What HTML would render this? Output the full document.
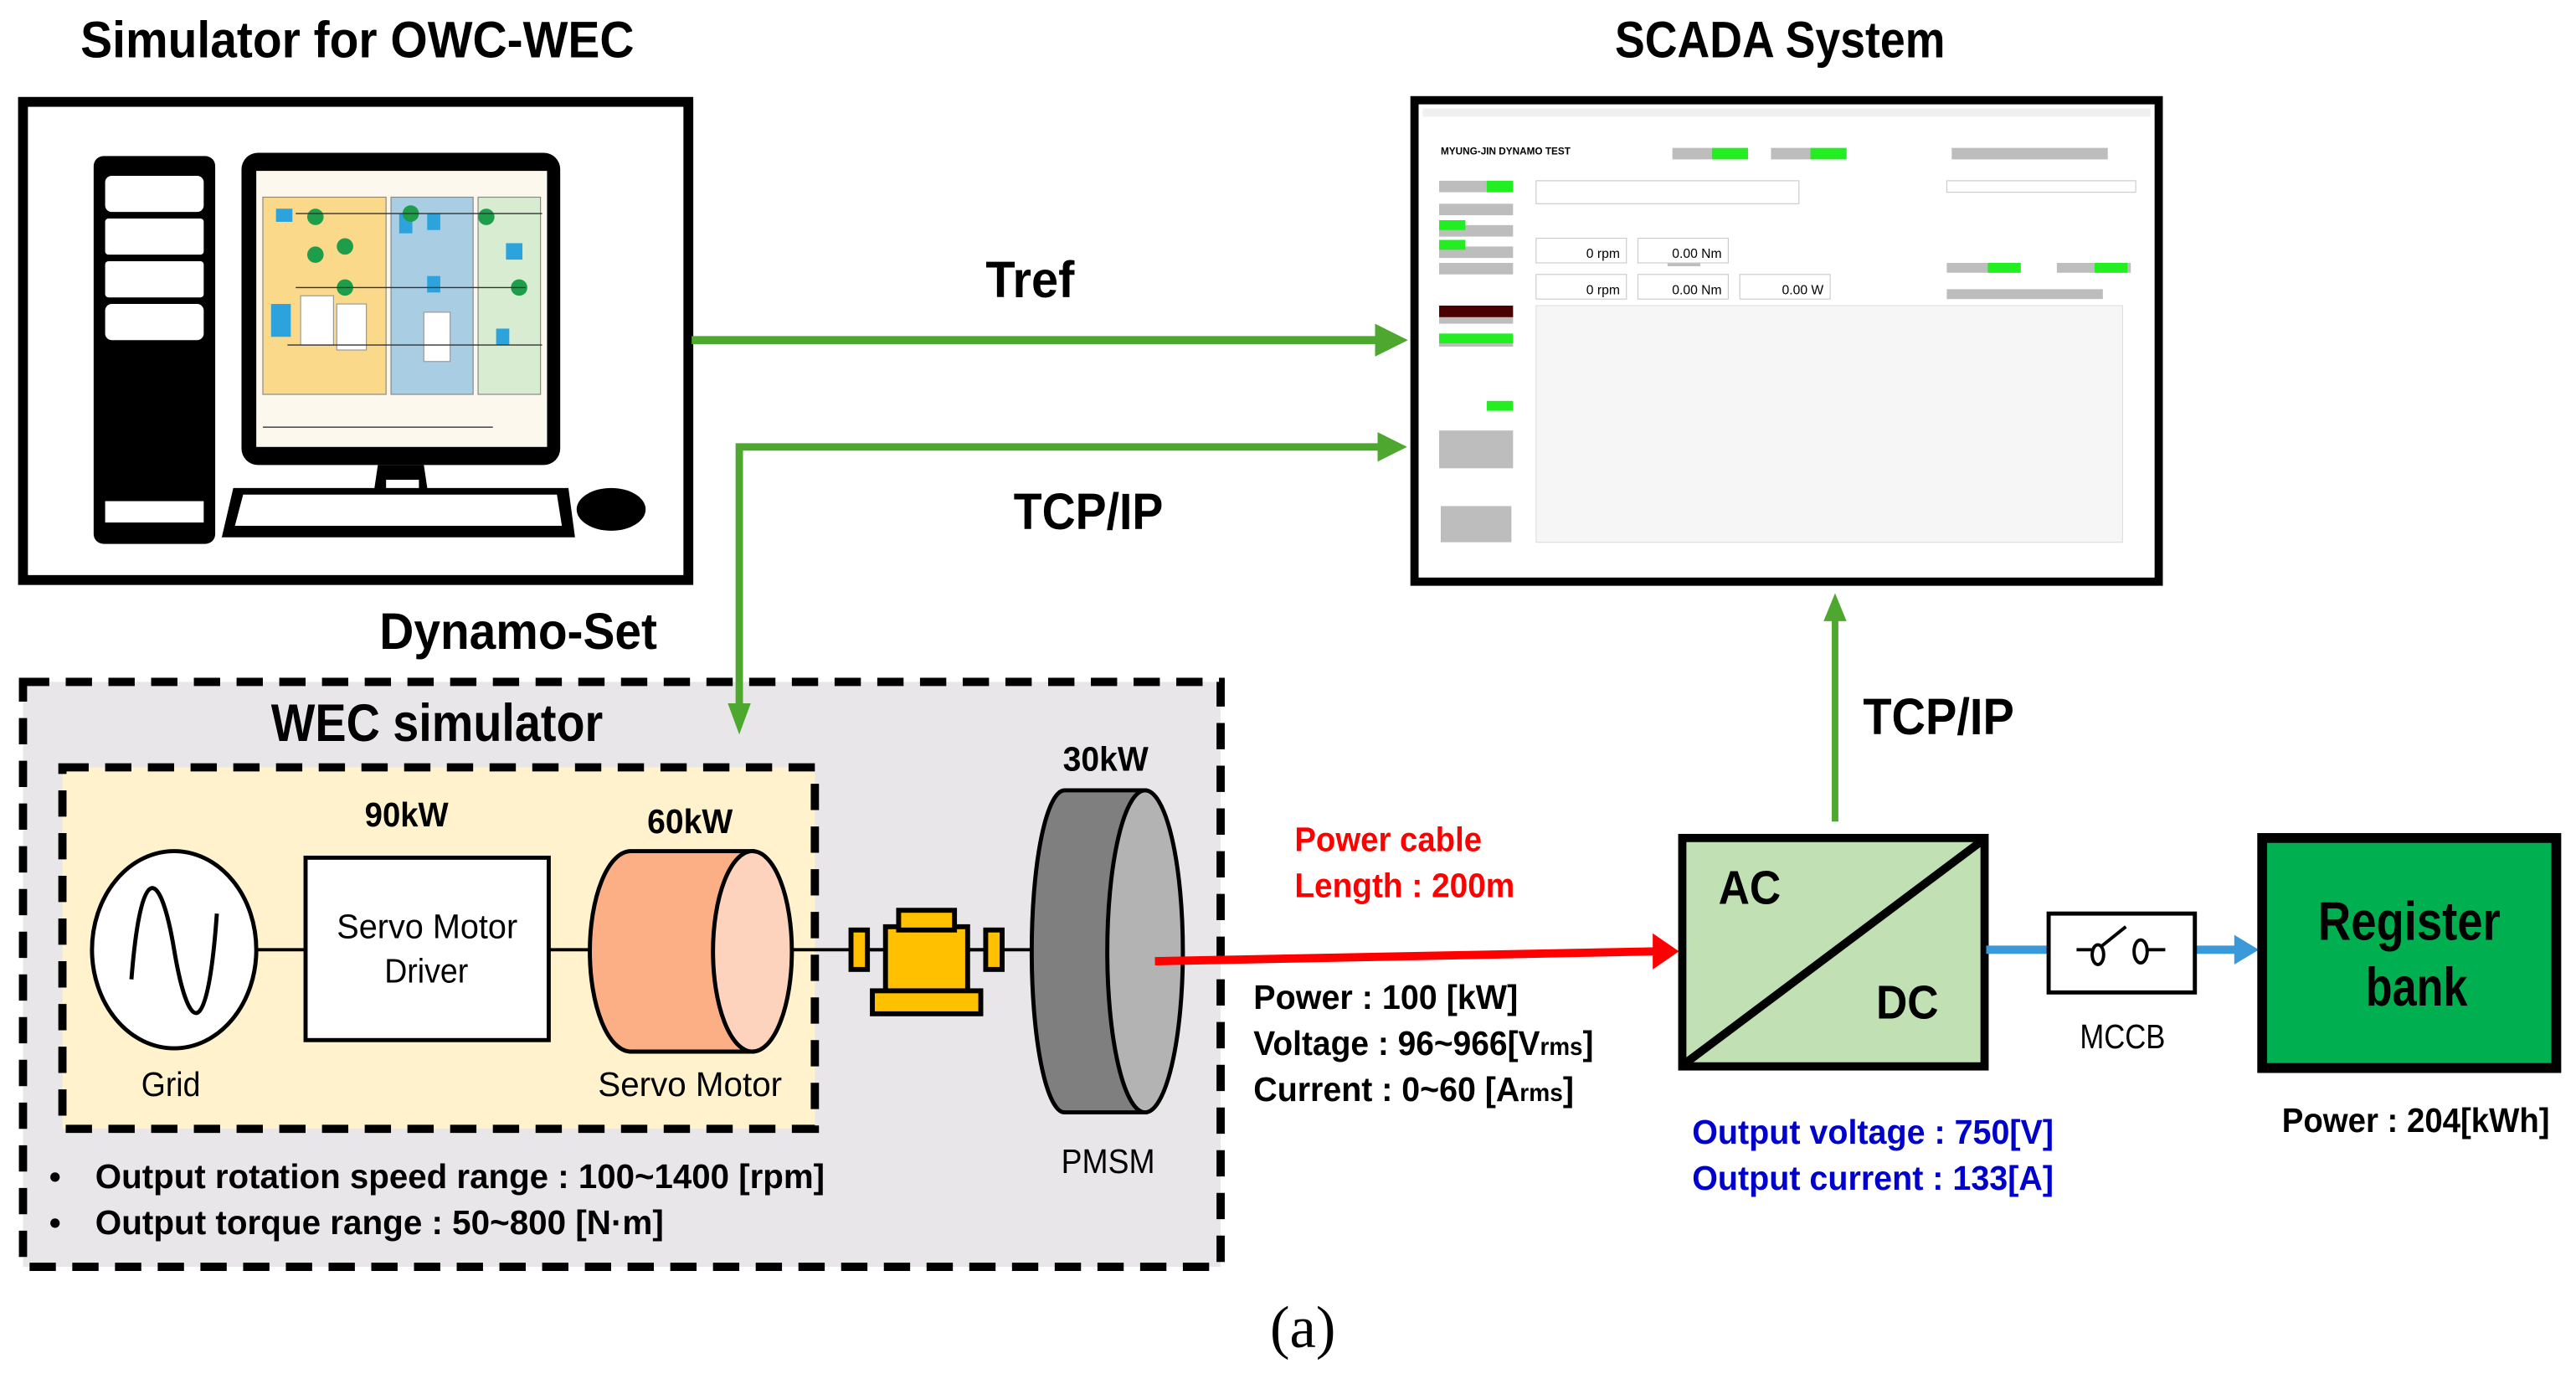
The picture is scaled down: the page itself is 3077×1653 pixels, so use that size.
<!DOCTYPE html>
<html><head><meta charset="utf-8"><style>html,body{margin:0;padding:0;background:#fff}svg{display:block}
text{font-family:"Liberation Sans Narrow","Liberation Sans",sans-serif}</style></head><body>
<svg width="3077" height="1653" viewBox="0 0 1568 842.3" preserveAspectRatio="none" xmlns="http://www.w3.org/2000/svg">
<defs>
<marker id="ag" markerWidth="4" markerHeight="4" refX="3" refY="2" orient="auto"><path d="M0,0 L4,2 L0,4z" fill="#4ea72e"/></marker>
</defs>
<text x="49" y="35" font-size="31" font-weight="bold" textLength="337" lengthAdjust="spacingAndGlyphs">Simulator for OWC-WEC</text>
<text x="983" y="35" font-size="31" font-weight="bold" textLength="201" lengthAdjust="spacingAndGlyphs">SCADA System</text>
<rect x="14" y="62" width="405" height="291" fill="#fff" stroke="#000" stroke-width="6"/>
<rect x="57" y="95" width="74" height="236" rx="6" fill="#000"/>
<rect x="64" y="107" width="60" height="22" rx="4" fill="#fff"/>
<rect x="64" y="133" width="60" height="22" rx="2" fill="#fff"/>
<rect x="64" y="159" width="60" height="22" rx="2" fill="#fff"/>
<rect x="64" y="185" width="60" height="22" rx="4" fill="#fff"/>
<rect x="64" y="305" width="60" height="13" fill="#fff"/>
<rect x="147" y="93" width="194" height="190" rx="10" fill="#000"/>
<rect x="156" y="104" width="177" height="168" fill="#fcf8ee"/>
<rect x="160" y="120" width="75" height="120" fill="#fbd98a" stroke="#888" stroke-width=".6"/>
<rect x="238" y="120" width="50" height="120" fill="#a9cde3" stroke="#888" stroke-width=".6"/>
<rect x="291" y="120" width="38" height="120" fill="#d7ecd0" stroke="#888" stroke-width=".6"/>
<rect x="168" y="127" width="10" height="8" fill="#2ca3dc"/><rect x="165" y="185" width="12" height="20" fill="#2ca3dc"/>
<rect x="243" y="130" width="8" height="12" fill="#2ca3dc"/><rect x="260" y="130" width="8" height="10" fill="#2ca3dc"/><rect x="260" y="168" width="8" height="10" fill="#2ca3dc"/>
<rect x="308" y="148" width="10" height="10" fill="#2ca3dc"/><rect x="302" y="200" width="8" height="10" fill="#2ca3dc"/>
<circle cx="192" cy="132" r="5" fill="#1e9e4a"/><circle cx="192" cy="155" r="5" fill="#1e9e4a"/><circle cx="210" cy="150" r="5" fill="#1e9e4a"/><circle cx="210" cy="175" r="5" fill="#1e9e4a"/><circle cx="250" cy="130" r="5" fill="#1e9e4a"/><circle cx="296" cy="132" r="5" fill="#1e9e4a"/><circle cx="316" cy="175" r="5" fill="#1e9e4a"/>
<rect x="183" y="180" width="20" height="30" fill="#fff" stroke="#999" stroke-width=".6"/><rect x="205" y="185" width="18" height="28" fill="#fff" stroke="#999" stroke-width=".6"/><rect x="258" y="190" width="16" height="30" fill="#fff" stroke="#999" stroke-width=".6"/>
<path d="M180 130H330M180 175H320M175 210H330M160 260H300" stroke="#333" stroke-width=".7" fill="none"/>
<path d="M230 283 L258 283 L262 310 L226 310z" fill="#000"/><rect x="235" y="292" width="20" height="6" fill="#fff"/>
<path d="M222 300 L270 300 L273 312 L219 312z" fill="#000"/>
<path d="M142 297 L346 297 L350 327 L135 327z" fill="#000"/><path d="M148 301 L339 301 L342 320 L143 320z" fill="#fff"/>
<ellipse cx="372" cy="310" rx="21" ry="13" fill="#000"/>
<rect x="861" y="61" width="453" height="293" fill="#fff" stroke="#000" stroke-width="5"/>
<rect x="866" y="66" width="443" height="5" fill="#f0f0f0"/>
<text x="877" y="94" font-size="6" font-weight="bold">MYUNG-JIN DYNAMO TEST</text>
<g fill="#bdbdbd">
<rect x="1018" y="90" width="24" height="7"/><rect x="1078" y="90" width="24" height="7"/><rect x="1188" y="90" width="95" height="7"/>
<rect x="876" y="110" width="45" height="7"/><rect x="876" y="124" width="45" height="7"/><rect x="876" y="137" width="45" height="7"/><rect x="876" y="150" width="45" height="7"/><rect x="876" y="160" width="45" height="7"/>
<rect x="876" y="190" width="45" height="7"/><rect x="876" y="204" width="45" height="7"/>
<rect x="876" y="262" width="45" height="23"/><rect x="877" y="308" width="43" height="22"/>
<rect x="1015" y="155" width="20" height="7"/><rect x="1185" y="160" width="45" height="6"/><rect x="1252" y="160" width="45" height="6"/><rect x="1185" y="176" width="95" height="6"/>
</g>
<g fill="#22ee22">
<rect x="1042" y="90" width="22" height="7"/><rect x="1102" y="90" width="22" height="7"/>
<rect x="905" y="110" width="16" height="7"/><rect x="876" y="134" width="16" height="6"/><rect x="876" y="146" width="16" height="6"/>
<rect x="876" y="203" width="45" height="6"/><rect x="905" y="244" width="16" height="6"/><rect x="1210" y="160" width="20" height="6"/><rect x="1275" y="160" width="20" height="6"/>
</g>
<rect x="876" y="186" width="45" height="7" fill="#4a0000"/>
<g fill="#fff" stroke="#ccc" stroke-width=".6">
<rect x="935" y="110" width="160" height="14"/><rect x="1185" y="110" width="115" height="7"/>
<rect x="935" y="145" width="55" height="15"/><rect x="997" y="145" width="55" height="15"/>
<rect x="935" y="167" width="55" height="15"/><rect x="997" y="167" width="55" height="15"/><rect x="1059" y="167" width="55" height="15"/>
</g>
<text x="986" y="157" font-size="8" text-anchor="end">0 rpm</text><text x="1048" y="157" font-size="8" text-anchor="end">0.00 Nm</text>
<text x="986" y="179" font-size="8" text-anchor="end">0 rpm</text><text x="1048" y="179" font-size="8" text-anchor="end">0.00 Nm</text><text x="1110" y="179" font-size="8" text-anchor="end">0.00 W</text>
<rect x="935" y="186" width="357" height="144" fill="#f6f6f6" stroke="#e0e0e0" stroke-width=".6"/>
<line x1="421" y1="207" x2="852" y2="207" stroke="#4ea72e" stroke-width="5" marker-end="url(#ag)"/>
<polyline points="450,400 450,272 852,272" fill="none" stroke="#4ea72e" stroke-width="4.5" marker-end="url(#ag)"/>
<text x="600" y="181" font-size="31" font-weight="bold" textLength="54" lengthAdjust="spacingAndGlyphs">Tref</text>
<text x="617" y="322" font-size="31" font-weight="bold" textLength="91" lengthAdjust="spacingAndGlyphs">TCP/IP</text>
<text x="231" y="395" font-size="31" font-weight="bold" textLength="169" lengthAdjust="spacingAndGlyphs">Dynamo-Set</text>
<rect x="14" y="415" width="729" height="356" fill="#e8e6e8" stroke="#000" stroke-width="5" stroke-dasharray="16,10"/>
<line x1="450" y1="400" x2="450" y2="430" stroke="#4ea72e" stroke-width="4.5"/>
<path d="M450 447 L443 428 L457 428z" fill="#4ea72e"/>
<text x="165" y="451" font-size="32" font-weight="bold" textLength="202" lengthAdjust="spacingAndGlyphs">WEC simulator</text>
<rect x="38" y="467" width="458" height="220" fill="#fff2cc" stroke="#000" stroke-width="5" stroke-dasharray="16,10"/>
<text x="222" y="503" font-size="21" font-weight="bold" textLength="51" lengthAdjust="spacingAndGlyphs">90kW</text>
<text x="394" y="507" font-size="21" font-weight="bold" textLength="52" lengthAdjust="spacingAndGlyphs">60kW</text>
<text x="647" y="469" font-size="21" font-weight="bold" textLength="52" lengthAdjust="spacingAndGlyphs">30kW</text>
<line x1="155" y1="578" x2="630" y2="578" stroke="#000" stroke-width="2"/>
<ellipse cx="106" cy="578" rx="50" ry="60" fill="#fff" stroke="#000" stroke-width="2.5"/>
<path d="M80 596 C86 520 98 530 106 578 S126 640 132 556" fill="none" stroke="#000" stroke-width="2.5"/>
<text x="86" y="667" font-size="21" textLength="36" lengthAdjust="spacingAndGlyphs">Grid</text>
<rect x="186" y="522" width="148" height="111" fill="#fff" stroke="#000" stroke-width="2.5"/>
<text x="205" y="571" font-size="21" textLength="110" lengthAdjust="spacingAndGlyphs">Servo Motor</text>
<text x="234" y="598" font-size="21" textLength="51" lengthAdjust="spacingAndGlyphs">Driver</text>
<path d="M384 518 L458 518 L458 640 L384 640 A25 61 0 0 1 384 518z" fill="#fcae84" stroke="#000" stroke-width="2.5"/>
<ellipse cx="458" cy="579" rx="24" ry="61" fill="#fdd3be" stroke="#000" stroke-width="2.5"/>
<text x="364" y="667" font-size="21" textLength="112" lengthAdjust="spacingAndGlyphs">Servo Motor</text>
<rect x="518" y="566" width="10" height="24" fill="#ffc000" stroke="#000" stroke-width="3"/>
<rect x="600" y="566" width="10" height="24" fill="#ffc000" stroke="#000" stroke-width="3"/>
<line x1="528" y1="578" x2="600" y2="578" stroke="#000" stroke-width="2"/>
<rect x="539" y="564" width="50" height="42" fill="#ffc000" stroke="#000" stroke-width="3"/>
<rect x="547" y="554" width="34" height="12" fill="#ffc000" stroke="#000" stroke-width="3"/>
<rect x="531" y="603" width="66" height="14" fill="#ffc000" stroke="#000" stroke-width="3"/>
<path d="M697 481 L648 481 A20 98 0 0 0 648 677 L697 677z" fill="#7f7f7f" stroke="#000" stroke-width="2.5"/>
<ellipse cx="697" cy="579" rx="23" ry="98" fill="#b3b3b3" stroke="#000" stroke-width="2.5"/>
<text x="646" y="714" font-size="21" textLength="57" lengthAdjust="spacingAndGlyphs">PMSM</text>
<text x="30" y="723" font-size="20" font-weight="bold">•</text>
<text x="58" y="723" font-size="21" font-weight="bold" textLength="444" lengthAdjust="spacingAndGlyphs">Output rotation speed range : 100~1400  [rpm]</text>
<text x="30" y="751" font-size="20" font-weight="bold">•</text>
<text x="58" y="751" font-size="21" font-weight="bold" textLength="346" lengthAdjust="spacingAndGlyphs">Output torque range : 50~800  [N·m]</text>
<line x1="703" y1="585" x2="1008" y2="579" stroke="#ff0000" stroke-width="5"/>
<path d="M1022 579 L1006 568 L1006 590z" fill="#ff0000"/>
<text x="788" y="518" font-size="21" font-weight="bold" fill="#ff0000" textLength="114" lengthAdjust="spacingAndGlyphs">Power  cable</text>
<text x="788" y="546" font-size="21" font-weight="bold" fill="#ff0000" textLength="134" lengthAdjust="spacingAndGlyphs">Length : 200m</text>
<text x="763" y="614" font-size="21" font-weight="bold" textLength="161" lengthAdjust="spacingAndGlyphs">Power : 100  [kW]</text>
<text x="763" y="642" font-size="21" font-weight="bold" textLength="207" lengthAdjust="spacingAndGlyphs">Voltage : 96~966[V<tspan font-size="15">rms</tspan>]</text>
<text x="763" y="670" font-size="21" font-weight="bold" textLength="195" lengthAdjust="spacingAndGlyphs">Current : 0~60  [A<tspan font-size="15">rms</tspan>]</text>
<rect x="1024" y="510" width="184" height="139" fill="#c1e0b3" stroke="#000" stroke-width="5"/>
<line x1="1026" y1="647" x2="1206" y2="512" stroke="#000" stroke-width="5"/>
<text x="1046" y="550" font-size="29" font-weight="bold" textLength="38" lengthAdjust="spacingAndGlyphs">AC</text>
<text x="1142" y="620" font-size="29" font-weight="bold" textLength="38" lengthAdjust="spacingAndGlyphs">DC</text>
<line x1="1117" y1="500" x2="1117" y2="376" stroke="#4ea72e" stroke-width="4"/>
<path d="M1117 361 L1110 378 L1124 378z" fill="#4ea72e"/>
<text x="1134" y="447" font-size="31" font-weight="bold" textLength="92" lengthAdjust="spacingAndGlyphs">TCP/IP</text>
<text x="1030" y="696" font-size="21" font-weight="bold" fill="#0000cc" textLength="220" lengthAdjust="spacingAndGlyphs">Output voltage : 750[V]</text>
<text x="1030" y="724" font-size="21" font-weight="bold" fill="#0000cc" textLength="220" lengthAdjust="spacingAndGlyphs">Output current : 133[A]</text>
<line x1="1209" y1="578" x2="1247" y2="578" stroke="#3a9ad9" stroke-width="5"/>
<line x1="1336" y1="578" x2="1362" y2="578" stroke="#3a9ad9" stroke-width="5"/>
<path d="M1375 578 L1360 569 L1360 587z" fill="#3a9ad9"/>
<rect x="1247" y="556" width="89" height="48" fill="#fff" stroke="#000" stroke-width="2.5"/>
<path d="M1264 578 H1274 M1306 578 H1318" stroke="#000" stroke-width="2"/>
<ellipse cx="1277" cy="581" rx="3.5" ry="6" fill="none" stroke="#000" stroke-width="2"/>
<ellipse cx="1303" cy="579" rx="4" ry="7" fill="none" stroke="#000" stroke-width="2"/>
<line x1="1279" y1="576" x2="1294" y2="564" stroke="#000" stroke-width="2"/>
<text x="1266" y="638" font-size="21" textLength="52" lengthAdjust="spacingAndGlyphs">MCCB</text>
<rect x="1377" y="510" width="179" height="140" fill="#00b050" stroke="#000" stroke-width="6"/>
<text x="1411" y="572" font-size="33" font-weight="bold" textLength="111" lengthAdjust="spacingAndGlyphs">Register</text>
<text x="1440" y="612" font-size="33" font-weight="bold" textLength="62" lengthAdjust="spacingAndGlyphs">bank</text>
<text x="1389" y="689" font-size="21" font-weight="bold" textLength="163" lengthAdjust="spacingAndGlyphs">Power : 204[kWh]</text>
<text x="793" y="820" font-size="36" text-anchor="middle" style="font-family:'Liberation Serif',serif">(a)</text>
</svg>
</body></html>
